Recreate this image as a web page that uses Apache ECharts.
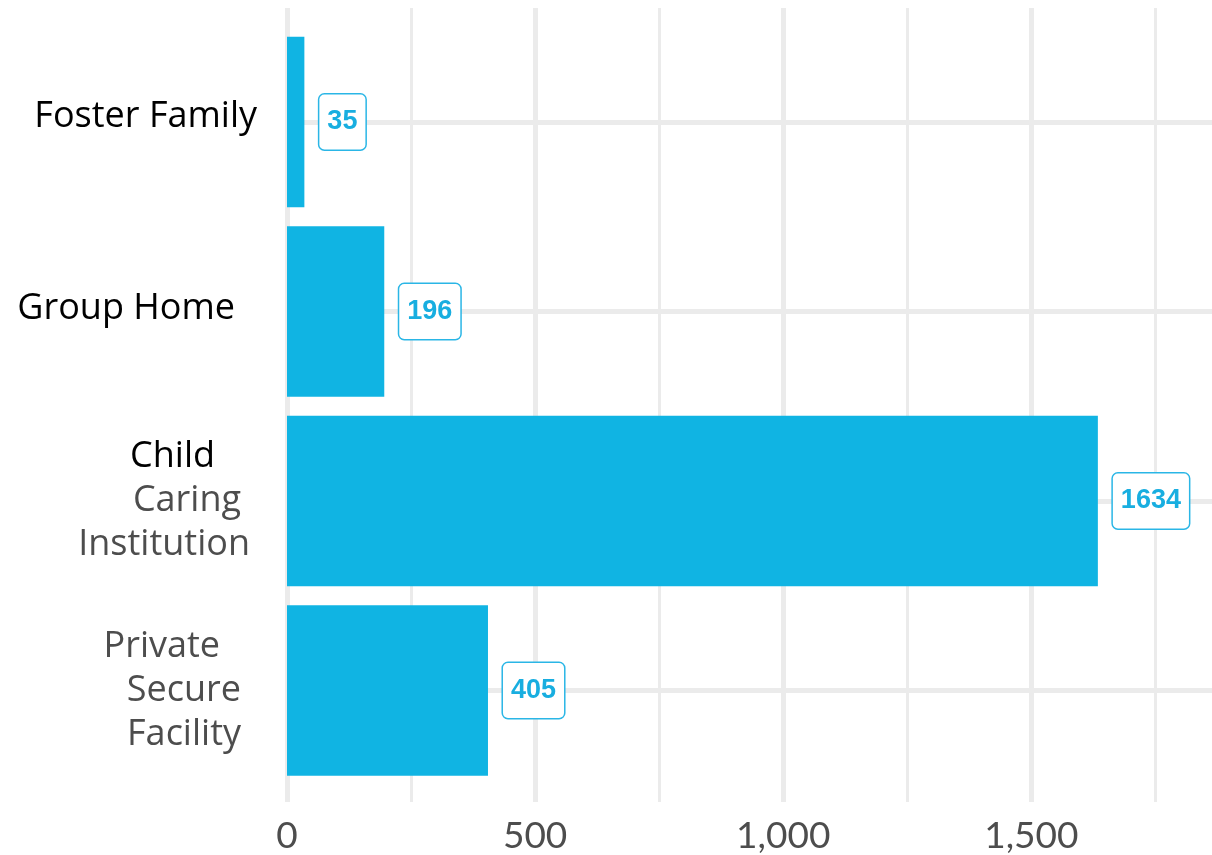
<!DOCTYPE html>
<html>
<head>
<meta charset="utf-8">
<script src="https://cdn.jsdelivr.net/npm/echarts@6/dist/echarts.min.js"></script>
<style>
  html, body { margin: 0; padding: 0; background: #fff; }
  #chart { width: 1212px; height: 855px; }
</style>
</head>
<body>
<div id="chart"></div>
<script>
// data
const categories = ['Foster Family', 'Group Home', 'Child Caring Institution', 'Private Secure Facility'];
const placements = [35, 196, 1634, 405];
const xMax = 1864;

const gridColor = '#ebebeb';
const barColor = '#10b4e3';
const none = 'rgba(0,0,0,0)';

// y 轴标签: 每行单独着色
const labelRich = {
  '0': '{fos|Foster Family}',
  '1': '{grp|Group Home}',
  '2': '{cc1|Child}\n{cc2|Caring}\n{cc3|Institution}',
  '3': '{ps1|Private}\n{ps2|Secure}\n{ps3|Facility}',
};

function line(color, padRight, padBottom) {
  return {
    color: color,
    fontFamily: 'Open Sans',
    fontSize: 36,
    lineHeight: 44,
    align: 'right',
    padding: [0, padRight, padBottom || 0, 0],
  };
}

const chart = echarts.init(document.getElementById('chart'));

const option = {
  animation: false,
  backgroundColor: '#fff',
  grid: [
    { left: 287, right: 0, top: 27.25, height: 758, containLabel: false },
    { left: 287, right: 0, top: 8, bottom: 51, containLabel: false },
  ],
  xAxis: [
    {
      gridIndex: 0,
      type: 'value',
      min: 0,
      max: xMax,
      show: false,
    },
    {
      // 次网格线 (最后一条是轴端, 不画)
      gridIndex: 1,
      type: 'value',
      position: 'bottom',
      min: 0,
      max: xMax,
      interval: 250,
      axisLine: { show: false },
      axisTick: { show: false },
      axisLabel: { show: false },
      splitLine: {
        show: true,
        lineStyle: { color: [gridColor, gridColor, gridColor, gridColor, gridColor, gridColor, gridColor, gridColor, none], width: 3 },
      },
    },
    {
      gridIndex: 1,
      type: 'value',
      position: 'bottom',
      min: 0,
      max: xMax,
      interval: 500,
      axisLine: { show: false },
      axisTick: { show: false },
      axisLabel: {
        show: true,
        showMaxLabel: false,
        margin: 16,
        color: '#4d4d4d',
        fontFamily: 'Lato',
        fontSize: 37,
        formatter: (v) => v.toLocaleString('en-US'),
      },
      splitLine: {
        show: true,
        lineStyle: { color: [gridColor, gridColor, gridColor, gridColor, none], width: 5 },
      },
    },
  ],
  yAxis: [
    {
      gridIndex: 0,
      type: 'category',
      inverse: true,
      data: categories,
      offset: 42,
      axisLine: { show: false },
      axisTick: {
        show: true,
        alignWithLabel: true,
        inside: true,
        length: 967,
        lineStyle: { color: gridColor, width: 5 },
      },
      axisLabel: {
        margin: -12,
        formatter: (val, idx) => labelRich[idx],
        rich: {
          fos: line('#000', 0, 10),
          grp: line('#000', 22, 6),
          cc1: line('#000', 42),
          cc2: line('#4d4d4d', 16),
          cc3: line('#4d4d4d', 7),
          ps1: line('#4d4d4d', 37),
          ps2: line('#4d4d4d', 16),
          ps3: line('#4d4d4d', 16),
        },
      },
      splitLine: { show: false },
    },
    {
      gridIndex: 1,
      type: 'value',
      show: false,
    },
  ],
  series: [
    {
      type: 'bar',
      xAxisIndex: 0,
      yAxisIndex: 0,
      data: placements,
      barCategoryGap: '10%',
      itemStyle: { color: barColor },
      label: {
        show: true,
        position: 'right',
        distance: 15,
        formatter: '{c}',
        fontFamily: 'Liberation Sans',
        fontSize: 27,
        fontWeight: 'bold',
        color: '#18aee0',
        backgroundColor: '#fff',
        borderColor: '#2ab6e6',
        borderWidth: 1.5,
        borderRadius: 5,
        padding: [15, 8, 13, 8],
      },
    },
  ],
};

option && chart.setOption(option);
</script>
</body>
</html>
